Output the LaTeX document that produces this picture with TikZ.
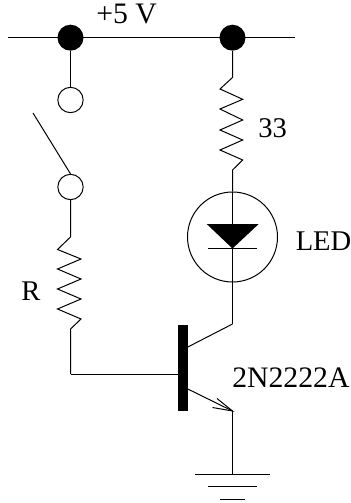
\documentclass[tikz,border=0pt]{standalone}
\usepackage{fontspec}
\setmainfont{Liberation Serif}
\tikzset{
  x=0.75pt,y=-0.75pt,
  wire/.style={line width=0.75pt,line join=miter},
  dotnode/.style={circle,fill=black,draw=none,minimum size=19.5pt,inner sep=0pt},
  termnode/.style={circle,draw=black,line width=0.75pt,fill=none,minimum size=19pt,inner sep=0pt},
  lbl/.style={anchor=base west,inner sep=0pt,font=\fontsize{21.4pt}{24pt}\selectfont},
  lblwide/.style={anchor=base west,inner sep=0pt,font=\fontsize{22.3pt}{24pt}\selectfont},
  ledring/.style={circle,draw=black,line width=0.75pt,minimum size=67.5pt,inner sep=0pt}
}
\begin{document}
\begin{tikzpicture}
\useasboundingbox (0,0) rectangle (350,503);
% rail
\coordinate (railL) at (8,37.7);
\coordinate (railR) at (295,37.7);
\draw[wire] (railL) -- (railR);
\node[dotnode] (d1) at (70.5,37.7) {};
\node[dotnode] (d2) at (232.5,37.7) {};
% switch
\node[termnode] (t1) at (70.5,100) {};
\node[termnode] (t2) at (70.5,187) {};
\coordinate (arm) at (33,113);
\draw[wire] (d1) -- (t1);
\draw[wire] (arm) -- (t2.north);
% R
\coordinate (rtop) at (70.5,237);
\coordinate (rbot) at (70.5,329);
\coordinate (bend) at (70.5,374);
\draw[wire] (t2.south) -- (rtop) -- (57.5,249.5) -- (81,259) -- (57.5,269) -- (81,279) -- (57.5,289) -- (81,299) -- (57.5,309) -- (81,319) -- (rbot) -- (bend);
% transistor
\node[fill=black,draw=none,inner sep=0pt,minimum width=7.2pt,minimum height=65.2pt] (bar) at (182.75,368) {};
\draw[wire] (bend) -- (bar.west |- bend);
\coordinate (cj) at (232.5,324);
\coordinate (ej) at (232.5,411);
\coordinate (cb) at (bar.east |- 0,347);
\coordinate (eb) at (bar.east |- 0,389);
\draw[wire] (cb) -- (cj);
\draw[wire] (eb) -- (ej);
\coordinate (ah1) at (212.5,407.5);
\coordinate (ah2) at (217,398.5);
\draw[wire] (ah1) -- (ej) -- (ah2);
% 33 ohm
\coordinate (ztop) at (232.5,77.5);
\coordinate (zbot) at (232.5,170);
\node[ledring] (led) at (232.5,237) {};
\draw[wire] (d2) -- (ztop) -- (220,89) -- (242.7,99.3) -- (220,109) -- (242.7,120) -- (220,130) -- (242.7,140) -- (220,150) -- (242.7,160) -- (zbot) -- (led.north);
% LED
\coordinate (tipA) at (206.7,224);
\coordinate (tipB) at (258.7,224);
\coordinate (tip) at (232.5,248.5);
\fill[black] (tipA) -- (tipB) -- (tip) -- cycle;
\coordinate (kL) at (208,248.5);
\coordinate (kR) at (257,248.5);
\draw[wire] (kL) -- (kR);
\draw[wire] (led.north) -- (cj);
% ground
\coordinate (g0) at (232.5,474);
\coordinate (g1L) at (195,474);
\coordinate (g1R) at (270,474);
\coordinate (g2L) at (207.5,486.5);
\coordinate (g2R) at (257,486.5);
\coordinate (g3L) at (220,499);
\coordinate (g3R) at (245,499);
\draw[wire] (ej) -- (g0);
\draw[wire] (g1L) -- (g1R);
\draw[wire] (g2L) -- (g2R);
\draw[wire] (g3L) -- (g3R);
% labels
\node[lblwide] (v) at (96,24) {+5 V};
\node[lbl] (l33) at (258,137) {33};
\node[lbl] (lled) at (295.5,250) {LED};
\node[lbl] (lr) at (21,300) {R};
\node[lblwide] (lq) at (232,387) {2N2222A};
\end{tikzpicture}
\end{document}
